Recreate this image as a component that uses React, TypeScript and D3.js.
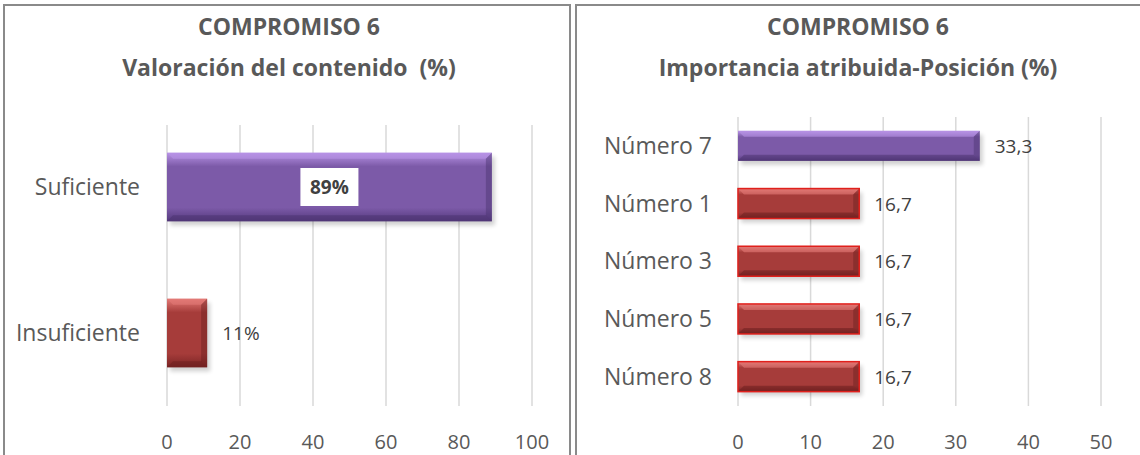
import React from 'react';
import * as d3 from 'd3';

// left chart
const valCategories = ['Suficiente', 'Insuficiente'];
const valValues = [89, 11];
const valTicks = [0, 20, 40, 60, 80, 100];

// right chart
const posCategories = ['Número 7', 'Número 1', 'Número 3', 'Número 5', 'Número 8'];
const posValues = [33.3, 16.7, 16.7, 16.7, 16.7];
const posTicks = [0, 10, 20, 30, 40, 50];

const FONT = '"Open Sans", sans-serif';
const TEXT = '#595959';
const GRID = '#d9d9d9';

type Pal = { hi: string; base: string; lo: string; edge: string; stroke?: string };
const PURPLE: Pal = { hi: '#b893e6', base: '#7c5aa8', lo: '#553a7e', edge: '#4a326e' };
const RED: Pal = { hi: '#e37a76', base: '#a63c3a', lo: '#7a2424', edge: '#6a1e1e' };
const RED_OUT: Pal = { ...RED, stroke: '#e0201c' };

const Bar = ({ x, y, w, h, pal, id }: { x: number; y: number; w: number; h: number; pal: Pal; id: string }) => {
  const b = Math.min(6, h * 0.2);
  return (
    <g>
      <defs>
        <linearGradient id={id} x1="0" y1="0" x2="0" y2="1">
          <stop offset="0" stopColor={pal.hi} />
          <stop offset="0.2" stopColor={pal.base} />
          <stop offset="0.8" stopColor={pal.base} />
          <stop offset="1" stopColor={pal.lo} />
        </linearGradient>
      </defs>
      <rect x={x + 3} y={y + 4} width={w} height={h} fill="#000" opacity={0.18} filter="url(#blur)" />
      <rect x={x} y={y} width={w} height={h} fill={`url(#${id})`} />
      {/* bevel edges */}
      <polygon points={`${x},${y} ${x + w},${y} ${x + w - b},${y + b} ${x + b},${y + b}`} fill={pal.hi} opacity={0.6} />
      <polygon points={`${x + w},${y} ${x + w},${y + h} ${x + w - b},${y + h - b} ${x + w - b},${y + b}`} fill={pal.edge} opacity={0.45} />
      <polygon points={`${x},${y + h} ${x + w},${y + h} ${x + w - b},${y + h - b} ${x + b},${y + h - b}`} fill={pal.edge} opacity={0.5} />
      {pal.stroke && <rect x={x} y={y} width={w} height={h} fill="none" stroke={pal.stroke} strokeWidth={1.5} />}
    </g>
  );
};

const App = () => {
  // left
  const xL = d3.scaleLinear().domain([0, 100]).range([167, 532]);
  const yL = d3.scaleBand().domain(valCategories).range([114, 406]).paddingInner(0.53).paddingOuter(0.265);
  // right
  const xR = d3.scaleLinear().domain([0, 50]).range([738, 1101]);
  const yR = d3.scaleBand().domain(posCategories).range([117, 405.5]).paddingInner(0.48).paddingOuter(0.24);

  return (
    <svg width={1140} height={455} style={{ position: 'absolute', left: 0, top: 0, background: '#fff' }} fontFamily={FONT}>
      <defs>
        <filter id="blur" x="-10%" y="-30%" width="120%" height="160%">
          <feGaussianBlur stdDeviation="2" />
        </filter>
      </defs>

      {/* panels */}
      <rect x={4} y={5} width={566} height={470} fill="#fff" stroke="#8a8a8a" strokeWidth={2} />
      <rect x={576} y={5} width={570} height={470} fill="#fff" stroke="#8a8a8a" strokeWidth={2} />

      {/* LEFT CHART */}
      <text x={289} y={35} textAnchor="middle" fontSize={23} fontWeight="bold" fill={TEXT}>COMPROMISO 6</text>
      <text x={289} y={76} textAnchor="middle" fontSize={23} fontWeight="bold" fill={TEXT} style={{ whiteSpace: 'pre' }}>Valoración del contenido  (%)</text>
      {valTicks.map(t => (
        <g key={t}>
          <line x1={xL(t)} x2={xL(t)} y1={125} y2={406} stroke={GRID} strokeWidth={1.5} />
          <text x={xL(t)} y={449} textAnchor="middle" fontSize={20} fill={TEXT}>{t}</text>
        </g>
      ))}
      {valCategories.map((c, i) => {
        const y = yL(c) as number;
        const h = yL.bandwidth();
        const w = xL(valValues[i]) - xL(0);
        const cy = y + h / 2;
        const inside = i === 0;
        return (
          <g key={c}>
            <text x={140} y={cy + 8} textAnchor="end" fontSize={23} fill={TEXT}>{c}</text>
            <Bar x={xL(0)} y={y} w={w} h={h} pal={i === 0 ? PURPLE : RED} id={`gl${i}`} />
            {inside ? (
              <g>
                <rect x={xL(0) + w / 2 - 29} y={cy - 19} width={58} height={38} fill="#fff" />
                <text x={xL(0) + w / 2} y={cy + 7} textAnchor="middle" fontSize={19} fontWeight="bold" fill="#404040">{valValues[i]}%</text>
              </g>
            ) : (
              <text x={xL(valValues[i]) + 15} y={cy + 7} fontSize={19} fill="#404040">{valValues[i]}%</text>
            )}
          </g>
        );
      })}

      {/* RIGHT CHART */}
      <text x={858} y={35} textAnchor="middle" fontSize={23} fontWeight="bold" fill={TEXT}>COMPROMISO 6</text>
      <text x={858} y={76} textAnchor="middle" fontSize={23} fontWeight="bold" fill={TEXT}>Importancia atribuida-Posición (%)</text>
      {posTicks.map(t => (
        <g key={t}>
          <line x1={xR(t)} x2={xR(t)} y1={117} y2={406} stroke={GRID} strokeWidth={1.5} />
          <text x={xR(t)} y={449} textAnchor="middle" fontSize={20} fill={TEXT}>{t}</text>
        </g>
      ))}
      {posCategories.map((c, i) => {
        const y = yR(c) as number;
        const h = yR.bandwidth();
        const w = xR(posValues[i]) - xR(0);
        const cy = y + h / 2;
        return (
          <g key={c}>
            <text x={712} y={cy + 8} textAnchor="end" fontSize={23} fill={TEXT}>{c}</text>
            <Bar x={xR(0)} y={y} w={w} h={h} pal={i === 0 ? PURPLE : RED_OUT} id={`gr${i}`} />
            <text x={xR(posValues[i]) + 15} y={cy + 7} fontSize={19} fill="#404040">
              {d3.format('.1f')(posValues[i]).replace('.', ',')}
            </text>
          </g>
        );
      })}
    </svg>
  );
};

export default App;
